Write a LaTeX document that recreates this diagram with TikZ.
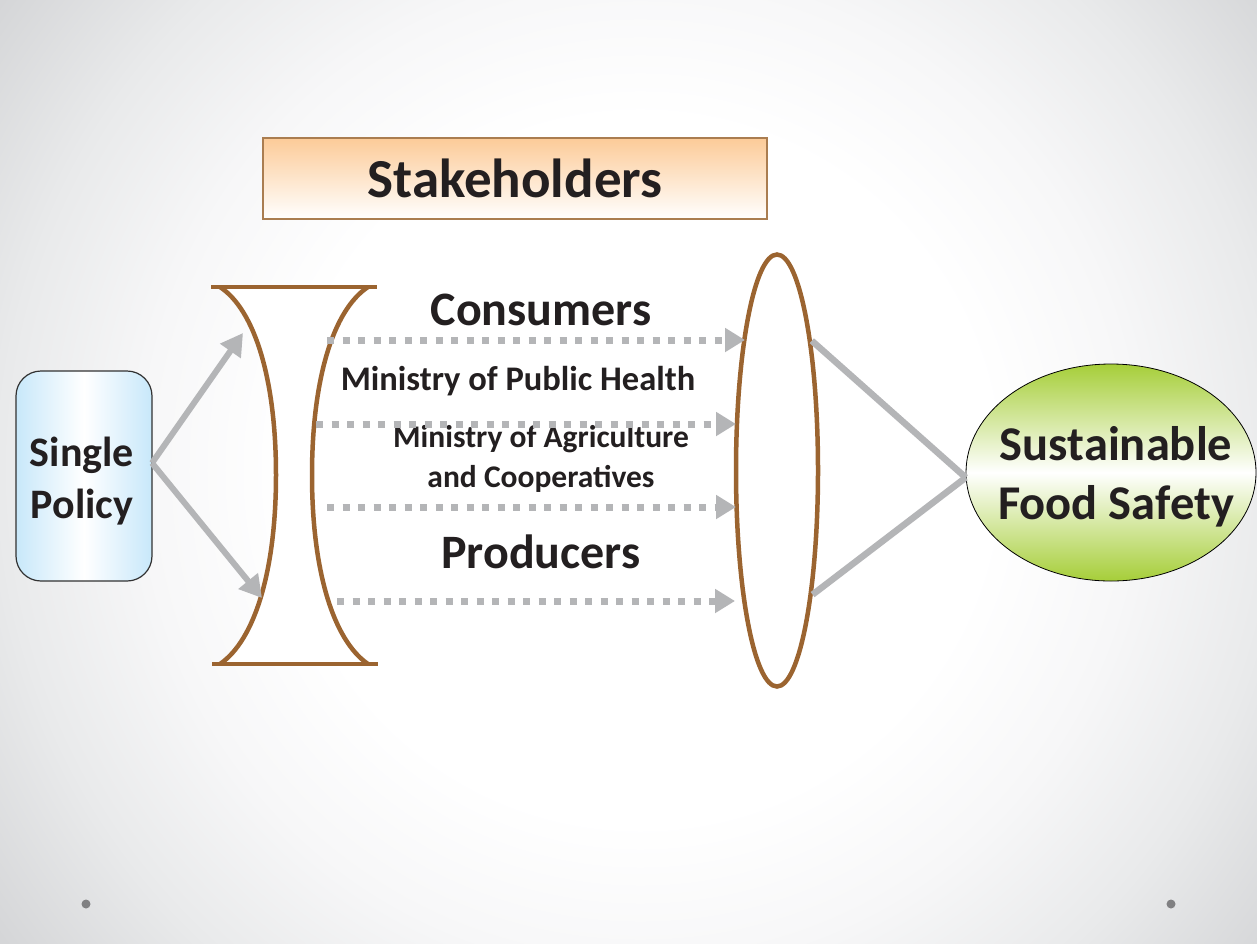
\documentclass[tikz,border=0pt]{standalone}
\usepackage{fontspec}
\setmainfont{Carlito}
\usetikzlibrary{arrows.meta,shapes.geometric}
\definecolor{brownline}{RGB}{155,100,48}
\definecolor{arrgray}{RGB}{180,181,183}
\definecolor{bglight}{RGB}{247,247,248}
\definecolor{bgmid}{RGB}{233,234,235}
\definecolor{bgedge}{RGB}{212,213,215}
\definecolor{skyblue}{RGB}{200,232,250}
\definecolor{peach}{RGB}{252,203,152}
\definecolor{leaf}{RGB}{166,206,57}
\definecolor{boxbrown}{RGB}{170,125,80}
\definecolor{dotgray}{RGB}{128,128,130}
\definecolor{boxedge}{RGB}{50,50,50}
\definecolor{ink}{RGB}{35,31,32}
\pgfdeclareradialshading{bgshade}{\pgfpoint{0bp}{0bp}}{color(0bp)=(white); color(11bp)=(white); color(15.5bp)=(bglight); color(20bp)=(bgmid); color(25bp)=(bgedge); color(50bp)=(bgedge)}
\begin{document}
\begin{tikzpicture}[x=1pt,y=-1pt,
  every node/.style={text=ink},
  policybox/.style={rectangle, rounded corners=25pt, draw=boxedge, line width=1.2pt,
    minimum width=136pt, minimum height=210pt, left color=skyblue, right color=skyblue,
    middle color=white, inner sep=0pt},
  policytext/.style={align=center, inner sep=0pt,
    font=\bfseries\fontsize{42}{52}\selectfont},
  stakebox/.style={rectangle, draw=boxbrown, line width=1.2pt, top color=peach,
    bottom color=white, minimum width=504pt, minimum height=81pt, inner sep=0pt,
    font=\bfseries\fontsize{55}{66}\selectfont},
  lensoval/.style={ellipse, draw=brownline, line width=4.5pt, minimum width=82pt,
    minimum height=432pt, inner sep=0pt},
  goaloval/.style={ellipse, draw=black, line width=0.8pt, top color=leaf,
    bottom color=leaf, middle color=white, minimum width=290pt, minimum height=217pt,
    inner sep=0pt},
  goaltext/.style={align=center, inner sep=0pt,
    font=\bfseries\fontsize{48.5}{59}\selectfont},
  biglabel/.style={anchor=base, inner sep=0pt, font=\bfseries\fontsize{48}{56}\selectfont},
  smalllabel/.style={anchor=base, inner sep=0pt, font=\bfseries\fontsize{31.5}{37}\selectfont},
  solidarrow/.style={draw=arrgray, line width=6pt, -{Triangle[length=22pt,width=24pt]}},
  dasharrow/.style={draw=arrgray, line width=7pt, dash pattern=on 7pt off 8.5pt,
    -{Triangle[length=20pt,width=23pt]}},
  link/.style={draw=arrgray, line width=6.5pt},
  lensline/.style={draw=brownline, line width=4.5pt}
]
\useasboundingbox (0,0) rectangle (1257,943);
\begin{scope}
  \clip (0,0) rectangle (1257,943);
  \shade[shading=bgshade] (-160,-330) rectangle (1440,1270);
\end{scope}

% concave lens shape
\fill[white] (220,287) -- (368,287)
  .. controls (333,310) and (312,380) .. (312,475)
  .. controls (312,570) and (333,640) .. (368,664)
  -- (220,664)
  .. controls (255,640) and (276,570) .. (276,475)
  .. controls (276,380) and (255,310) .. (220,287) -- cycle;
\draw[lensline] (211,287) -- (377,287);
\draw[lensline] (212,664) -- (378,664);
\draw[lensline] (220,287) .. controls (255,310) and (276,380) .. (276,475)
  .. controls (276,570) and (255,640) .. (220,664);
\draw[lensline] (368,287) .. controls (333,310) and (312,380) .. (312,475)
  .. controls (312,570) and (333,640) .. (368,664);

\node[policybox] (sp) at (84,476) {};
\node[policytext] (sptext) at (82,481) {Single\\Policy};
\node[stakebox] (st) at (515,178.5) {Stakeholders};
\node[lensoval] (lens) at (777,470.5) {};
\node[goaloval] (sfs) at (1111,472.5) {};
\node[goaltext] (sfstext) at (1116,477) {Sustainable\\Food Safety};

\node[biglabel] (cons) at (541,325) {Consumers};
\node[smalllabel, font=\bfseries\fontsize{34.5}{40}\selectfont] (mph) at (518,390) {Ministry of Public Health};
\node[smalllabel] (mac) at (541,447) {Ministry of Agriculture};
\node[smalllabel] (coop) at (541,487) {and Cooperatives};
\node[biglabel] (prod) at (541,568) {Producers};

% coordinates
\coordinate (spo) at (152,463);
\coordinate (lu) at (243,333);
\coordinate (ld) at (262,598);
\coordinate (a1s) at (327,340); \coordinate (a1e) at (745,340);
\coordinate (a2s) at (316,424); \coordinate (a2e) at (736,424);
\coordinate (a3s) at (327,507); \coordinate (a3e) at (736,507);
\coordinate (a4s) at (337,601); \coordinate (a4e) at (735,601);

\draw[solidarrow] (spo) -- (lu);
\draw[solidarrow] (spo) -- (ld);
\draw[dasharrow] (a1s) -- (a1e);
\draw[dasharrow] (a2s) -- (a2e);
\draw[dasharrow] (a3s) -- (a3e);
\draw[dasharrow] (a4s) -- (a4e);
\draw[link] (lens.75) -- (sfs.182);
\draw[link] (lens.-74) -- (sfs.182);

\fill[dotgray] (86,904) circle (4.5pt);
\fill[dotgray] (1171,904) circle (4.5pt);
\end{tikzpicture}
\end{document}
